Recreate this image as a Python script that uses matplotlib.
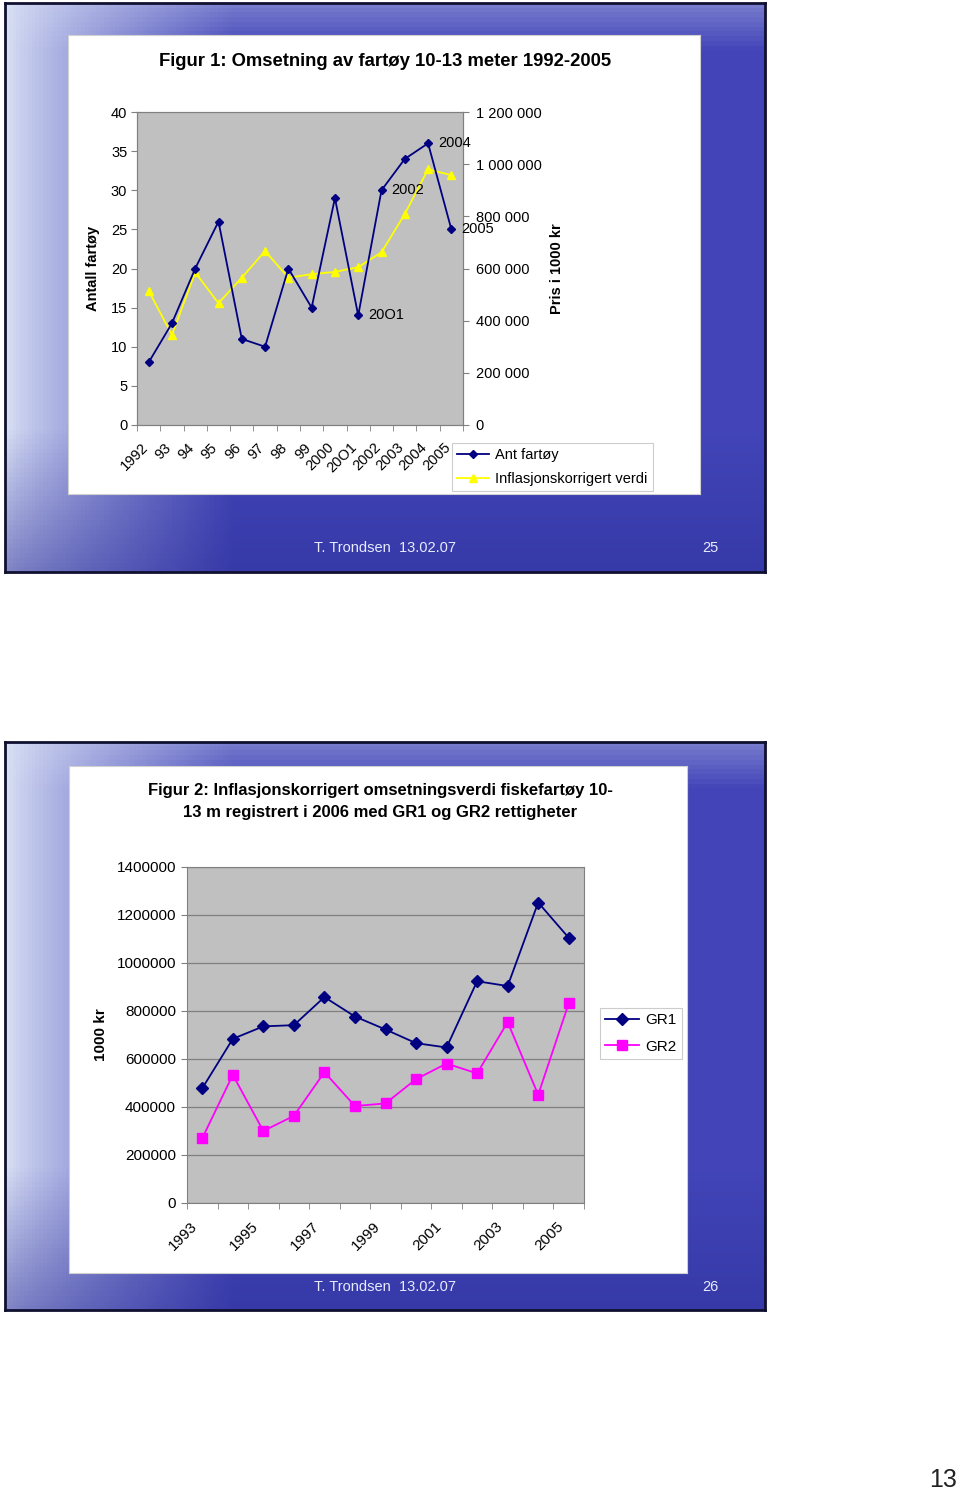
import numpy as np
import matplotlib
matplotlib.use("Agg")
from matplotlib import pyplot as plt
from matplotlib.ticker import FuncFormatter, FixedLocator
from matplotlib.transforms import ScaledTranslation

plt.rcParams['font.family'] = ['Liberation Sans', 'DejaVu Sans']

W, H = 960, 1494

# figure 1 data
years1 = ['1992', '93', '94', '95', '96', '97', '98', '99', '2000', '20O1', '2002', '2003', '2004', '2005']
ant_fartoy = [8, 13, 20, 26, 11, 10, 20, 15, 29, 14, 30, 34, 36, 25]
infl_verdi = [515000, 345000, 585000, 467000, 565000, 667000, 565000, 578000, 587000, 605000,
              662000, 809000, 980000, 958000]
labelled = [9, 10, 12, 13]  # points with a year written next to them

# figure 2 data
years2 = ['1993', '1994', '1995', '1996', '1997', '1998', '1999', '2000', '2001', '2002', '2003', '2004', '2005']
gr1 = [478000, 684000, 736000, 741000, 858000, 777000, 723000, 666000, 648000, 924000, 904000, 1252000, 1105000]
gr2 = [270000, 534000, 300000, 363000, 545000, 404000, 415000, 516000, 581000, 540000, 754000, 451000, 832000]

NAVY = '#000080'
YELLOW = '#ffff00'
MAGENTA = '#ff00ff'
PLOTBG = '#c0c0c0'


def rect(x0, y0, x1, y1):
    return [x0 / W, 1 - y1 / H, (x1 - x0) / W, (y1 - y0) / H]


def slide_bg(x0, y0, x1, y1):
    ax = fig.add_axes(rect(x0, y0, x1, y1))
    nx, ny = 200, 120
    X, Y = np.meshgrid(np.linspace(0, 1, nx), np.linspace(0, 1, ny))
    light = np.array([0.85, 0.88, 0.96])
    blue = np.array([0.26, 0.27, 0.72])
    dark = np.array([0.17, 0.18, 0.60])
    t = np.clip(X / 0.3, 0, 1) ** 0.8
    img = light[None, None, :] * (1 - t[..., None]) + blue[None, None, :] * t[..., None]
    b = np.clip((Y - 0.75) / 0.25, 0, 1)[..., None] * 0.5
    img = img * (1 - b) + dark[None, None, :] * b
    top = np.clip((0.08 - Y) / 0.08, 0, 1)[..., None] * 0.35
    img = img * (1 - top) + light[None, None, :] * top
    ax.imshow(img, aspect='auto', extent=[0, 1, 1, 0])
    ax.set_xlim(0, 1)
    ax.set_ylim(1, 0)
    ax.set_xticks([])
    ax.set_yticks([])
    for s in ax.spines.values():
        s.set_color('#101030')
        s.set_linewidth(2)
    return ax


def white_panel(x0, y0, x1, y1):
    ax = fig.add_axes(rect(x0, y0, x1, y1))
    ax.set_facecolor('white')
    ax.set_xticks([])
    ax.set_yticks([])
    for s in ax.spines.values():
        s.set_color('#d0d0d0')
        s.set_linewidth(0.8)
    return ax


def shift_labels(ax, dx):
    off = ScaledTranslation(dx / 100, 0, fig.dpi_scale_trans)
    for lab in ax.get_xticklabels():
        lab.set_transform(lab.get_transform() + off)


fig = plt.figure(figsize=(W / 100, H / 100), dpi=100)
fig.patch.set_facecolor('white')

# ---------- slide 1 ----------
slide_bg(5, 3, 765, 572)
white_panel(68, 35, 700, 494)
fig.text(385 / W, 1 - 62 / H, 'Figur 1: Omsetning av fartøy 10-13 meter 1992-2005',
         ha='center', va='center', fontsize=13.3, fontweight='bold')

ax1 = fig.add_axes(rect(137, 112, 463, 425))
x1 = np.arange(len(years1))
l1, = ax1.plot(x1, ant_fartoy, color=NAVY, lw=1.3, marker='D', ms=4.5, zorder=3)
ax1.set_xlim(-0.5, len(years1) - 0.5)
ax1.set_ylim(0, 40)
ax1.set_yticks(range(0, 41, 5))
ax1.set_xticks(x1)
ax1.set_xticklabels(years1, rotation=45, ha='right', rotation_mode='anchor', fontsize=10.5)
ax1.xaxis.set_minor_locator(FixedLocator(np.arange(-0.5, len(years1), 1)))
ax1.tick_params(axis='x', which='major', length=0, pad=11)
ax1.tick_params(axis='x', which='minor', length=4, color='#808080')
ax1.tick_params(axis='y', length=4, color='#808080', labelsize=10.5, pad=3)
ax1.set_ylabel('Antall fartøy', fontsize=10.5, fontweight='bold', labelpad=8)
shift_labels(ax1, -8)
for s in ax1.spines.values():
    s.set_color('#808080')

ax1b = ax1.twinx()
l2, = ax1b.plot(x1, infl_verdi, color=YELLOW, lw=1.3, marker='^', ms=5.5, zorder=2)
ax1b.set_ylim(0, 1200000)
ax1b.set_yticks(range(0, 1200001, 200000))
ax1b.yaxis.set_major_formatter(FuncFormatter(lambda v, p: '{:,}'.format(int(v)).replace(',', ' ')))
ax1b.tick_params(axis='y', length=4, color='#808080', labelsize=10.5, pad=5)
ax1b.set_ylabel('Pris i 1000 kr', fontsize=10.5, fontweight='bold', labelpad=6)
for s in ax1b.spines.values():
    s.set_color('#808080')
# grey plot area behind both series, navy series drawn on top
ax1.set_zorder(ax1b.get_zorder() + 1)
ax1.patch.set_visible(False)
ax1b.patch.set_visible(True)
ax1b.patch.set_facecolor(PLOTBG)

for i in labelled:
    ax1.annotate(years1[i], (x1[i], ant_fartoy[i]), xytext=(7, 0),
                 textcoords='offset points', va='center', ha='left', fontsize=10.5)

leg1 = fig.legend([l1, l2], ['Ant fartøy', 'Inflasjonskorrigert verdi'],
                  loc='upper left', bbox_to_anchor=(452 / W, 1 - 443 / H),
                  fontsize=10.5, frameon=True, fancybox=False, edgecolor='#c0c0c0',
                  handlelength=2.2, handletextpad=0.4, borderpad=0.35, labelspacing=0.7,
                  borderaxespad=0)
leg1.get_frame().set_linewidth(0.8)

fig.text(385 / W, 1 - 548 / H, 'T. Trondsen  13.02.07', ha='center', va='center',
         fontsize=10.5, color='#e8ecff')
fig.text(710 / W, 1 - 548 / H, '25', ha='center', va='center', fontsize=10.5, color='#e8ecff')

# ---------- slide 2 ----------
slide_bg(5, 742, 765, 1310)
white_panel(69, 766, 687, 1273)
fig.text(380 / W, 1 - 790 / H, 'Figur 2: Inflasjonskorrigert omsetningsverdi fiskefartøy 10-',
         ha='center', va='center', fontsize=12, fontweight='bold')
fig.text(380 / W, 1 - 813 / H, '13 m registrert i 2006 med GR1 og GR2 rettigheter',
         ha='center', va='center', fontsize=12, fontweight='bold')

ax2 = fig.add_axes(rect(187, 867, 584, 1203))
ax2.set_facecolor(PLOTBG)
x2 = np.arange(len(years2))
m1, = ax2.plot(x2, gr1, color=NAVY, lw=1.3, marker='D', ms=6, zorder=3)
m2, = ax2.plot(x2, gr2, color=MAGENTA, lw=1.3, marker='s', ms=6.5, zorder=3)
ax2.set_xlim(-0.5, len(years2) - 0.5)
ax2.set_ylim(0, 1400000)
ax2.set_yticks(range(0, 1400001, 200000))
ax2.yaxis.set_major_formatter(FuncFormatter(lambda v, p: str(int(v))))
ax2.yaxis.grid(True, color='#808080', lw=0.9)
ax2.set_axisbelow(True)
ax2.set_xticks(x2[::2])
ax2.set_xticklabels(years2[::2], rotation=45, ha='right', rotation_mode='anchor', fontsize=11)
ax2.xaxis.set_minor_locator(FixedLocator(np.arange(-0.5, len(years2), 1)))
ax2.tick_params(axis='x', which='major', length=0, pad=12)
ax2.tick_params(axis='x', which='minor', length=4, color='#808080')
ax2.tick_params(axis='y', length=4, color='#808080', labelsize=11, pad=4)
ax2.set_ylabel('1000 kr', fontsize=11, fontweight='bold', labelpad=6)
shift_labels(ax2, -12)
for s in ax2.spines.values():
    s.set_color('#808080')

leg2 = fig.legend([m1, m2], ['GR1', 'GR2'], loc='upper left',
                  bbox_to_anchor=(600 / W, 1 - 1008 / H), fontsize=11, frameon=True,
                  fancybox=False, edgecolor='#c0c0c0', handlelength=2.2, handletextpad=0.4,
                  borderpad=0.35, labelspacing=0.8, borderaxespad=0)
leg2.get_frame().set_linewidth(0.8)

fig.text(385 / W, 1 - 1287 / H, 'T. Trondsen  13.02.07', ha='center', va='center',
         fontsize=10.5, color='#e8ecff')
fig.text(710 / W, 1 - 1287 / H, '26', ha='center', va='center', fontsize=10.5, color='#e8ecff')

fig.text(943 / W, 1 - 1480 / H, '13', ha='center', va='center', fontsize=18, color='#222222')

fig.savefig('out.png', dpi=100)
